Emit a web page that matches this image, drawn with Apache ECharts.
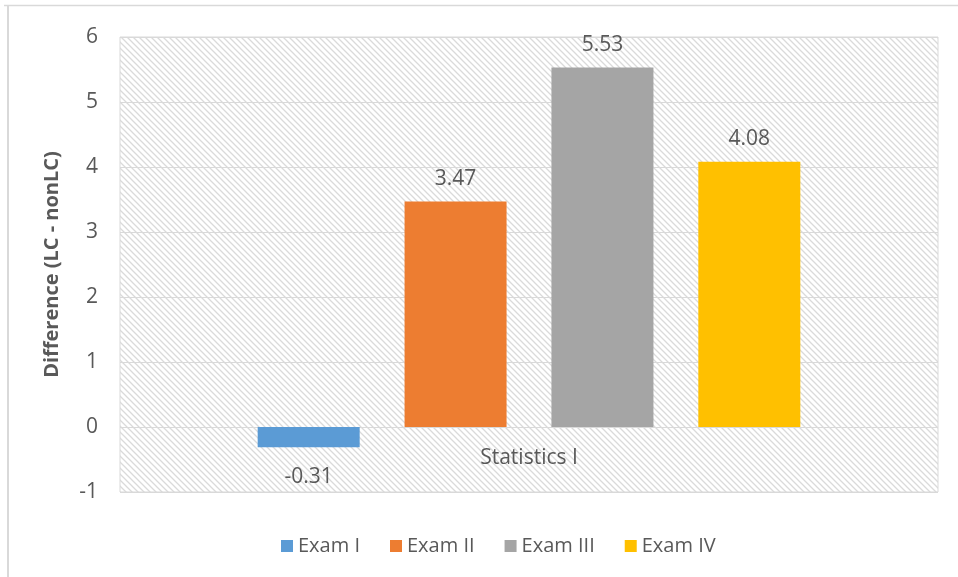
<!DOCTYPE html>
<html>
<head>
<meta charset="utf-8">
<script src="https://cdn.jsdelivr.net/npm/echarts@6/dist/echarts.min.js"></script>
<style>
  html, body { margin: 0; padding: 0; background: #fff; }
  #chart { width: 958px; height: 577px; }
</style>
</head>
<body>
<div id="chart"></div>
<script>
// data
const categories = ['Statistics I'];
const seriesNames = ['Exam I', 'Exam II', 'Exam III', 'Exam IV'];
const seriesValues = [-0.31, 3.47, 5.53, 4.08];
const seriesColors = ['#5b9bd5', '#ed7d31', '#a5a5a5', '#ffc000'];
const yTicks = { min: -1, max: 6, step: 1 };

// hatch pattern for the plot area
function makeHatch() {
    let c = document.createElement('canvas');
    c.width = 6;
    c.height = 6;
    let g = c.getContext('2d');
    g.fillStyle = '#ffffff';
    g.fillRect(0, 0, 6, 6);
    g.strokeStyle = '#dadada';
    g.lineWidth = 1.3;
    g.beginPath();
    g.moveTo(-1, -1); g.lineTo(7, 7);
    g.moveTo(-4, 2); g.lineTo(1, 7);
    g.moveTo(5, -1); g.lineTo(8, 2);
    g.stroke();
    return c;
}

const font = '"Open Sans", "Noto Sans", sans-serif';
const txt = '#595959';

let chart = echarts.init(document.getElementById('chart'));

let series = seriesNames.map((name, i) => ({
    name: name,
    type: 'bar',
    barWidth: 102,
    barGap: '44%',
    itemStyle: { color: seriesColors[i] },
    label: {
        show: true,
        position: seriesValues[i] < 0 ? 'bottom' : 'top',
        distance: seriesValues[i] < 0 ? 19 : 12,
        color: txt,
        fontSize: 21,
        fontFamily: font
    },
    data: [seriesValues[i]]
}));

chart.setOption({
    animation: false,
    textStyle: { fontFamily: font },
    grid: {
        left: 120, right: 20, top: 37, bottom: 85,
        show: true,
        backgroundColor: { image: makeHatch(), repeat: 'repeat' },
        borderColor: '#d9d9d9',
        borderWidth: 1
    },
    graphic: [
        { type: 'line', shape: { x1: 4, y1: 5.5, x2: 958, y2: 5.5 }, style: { stroke: '#d9d9d9', lineWidth: 1.5 } },
        { type: 'line', shape: { x1: 8, y1: 5, x2: 8, y2: 577 }, style: { stroke: '#d9d9d9', lineWidth: 2 } }
    ],
    legend: {
        bottom: 16,
        left: 276,
        itemWidth: 12,
        itemHeight: 12,
        itemGap: 30,
        icon: 'rect',
        textStyle: { color: txt, fontSize: 20, fontFamily: font },
        data: seriesNames
    },
    xAxis: {
        type: 'category',
        data: categories,
        axisLine: { show: false },
        axisTick: { show: false },
        // category label sits just under the zero line, like the original
        axisLabel: { color: txt, fontSize: 21, margin: -44, fontFamily: font }
    },
    yAxis: {
        type: 'value',
        min: yTicks.min,
        max: yTicks.max,
        interval: yTicks.step,
        name: 'Difference (LC - nonLC)',
        nameLocation: 'middle',
        nameGap: 58,
        nameTextStyle: { color: txt, fontSize: 20, fontWeight: 'bold', fontFamily: font },
        axisLine: { show: false },
        axisTick: { show: false },
        axisLabel: { color: txt, fontSize: 21, margin: 22, fontFamily: font },
        splitLine: { lineStyle: { color: '#d9d9d9', width: 1 } }
    },
    series: series
});
</script>
</body>
</html>
